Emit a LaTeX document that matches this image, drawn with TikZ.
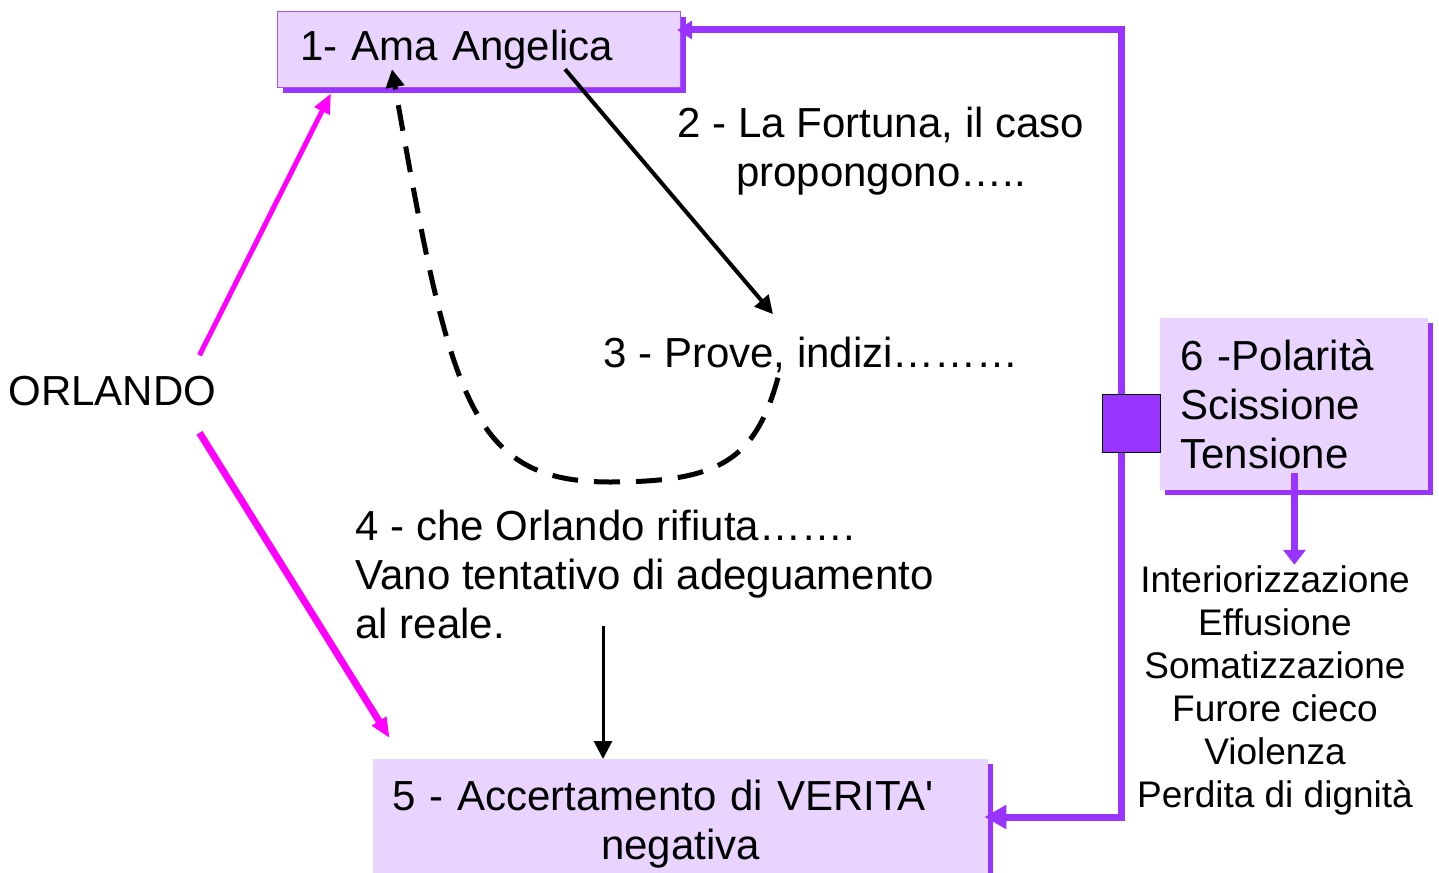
\documentclass[tikz,border=0pt]{standalone}
\usepackage{fontspec}
\setmainfont{Liberation Sans}
\usetikzlibrary{arrows.meta,shadows}

\definecolor{lilac}{HTML}{E8D4FF}
\definecolor{violetline}{HTML}{9933FF}
\definecolor{pinkline}{HTML}{FF00FF}

\tikzset{
  bigtext/.style={font=\fontsize{21}{24.5}\selectfont, inner sep=0pt},
  smalltext/.style={font=\fontsize{18.5}{21.5}\selectfont, inner sep=0pt},
  lilacbox/.style={fill=lilac, font=\fontsize{21}{24.5}\selectfont,
    general shadow={fill=violetline, shadow xshift=2.5pt, shadow yshift=-2.5pt}},
  violetarrow/.style={violetline, line width=3.5pt},
  pinkarrow/.style={pinkline, -{Triangle[length=10pt,width=8pt]}},
  blackarrow/.style={black, -{Triangle[length=9pt,width=9pt]}}
}

\begin{document}
\begin{tikzpicture}[x=0.5pt, y=-0.5pt]
\useasboundingbox (0,0) rectangle (1439,872);

% the three boxes
\node[lilacbox, draw=violetline!85, line width=0.6pt, anchor=north west, align=left,
  text width=178.5pt, inner xsep=11.5pt, minimum height=38pt] (ama) at (277,11) {1- Ama Angelica};
\node[lilacbox, anchor=north west, align=left, text width=114pt, inner xsep=10pt,
  minimum height=86pt] (polar) at (1160,318) {6 -Polarità\\Scissione\\Tensione};
\node[lilacbox, anchor=north, text width=290pt, inner xsep=8.75pt, inner ysep=10.5pt,
  align=center] (verita) at (680.5,759)
  {5 - Accertamento di VERITA\textquotesingle\hspace*{17.5pt}\mbox{}\\negativa};

% free texts
\node[bigtext, anchor=base west] (orlando) at (8,405) {ORLANDO};
\node[bigtext, align=center, anchor=base] (fortuna) at (881,186) {2 - La Fortuna, il caso\\propongono…..};
\node[bigtext, anchor=base west] (prove) at (603,367) {3 - Prove, indizi………};
\node[bigtext, align=left, anchor=base west] (rifiuta) at (355,638)
  {4 - che Orlando rifiuta…….\\Vano tentativo di adeguamento\\al reale.};
\node[smalltext, align=center, anchor=base] (effetti) at (1275,807)
  {Interiorizzazione\\Effusione\\Somatizzazione\\Furore cieco\\Violenza\\Perdita di dignità};

% violet frame on the right
\coordinate (turnlow) at (1121,817);
\coordinate (turnhigh) at (1121,30);
\draw[violetarrow, {Triangle[length=11pt,width=11.5pt]}-{Triangle[length=7.5pt,width=9pt]},
  shorten <=-2pt, shorten >=-2pt]
  (verita.east |- turnlow) -- (turnlow) -- (turnhigh) -- (ama.east |- turnhigh);
\node[draw=black, fill=violetline, line width=0.6pt, minimum size=29pt, inner sep=0pt,
  anchor=north west] (nodo) at (1102,394) {};
\draw[violetarrow, -{Triangle[length=7.5pt,width=11pt]}]
  ([yshift=9pt]polar.south) -- (polar.south |- effetti.north);

% Orlando
\draw[pinkarrow, line width=2.5pt] ([xshift=-8.5pt, yshift=10pt]orlando.north east)
  -- ([xshift=27pt, yshift=-2.5pt]ama.south west);
\draw[pinkarrow, line width=3.5pt] ([xshift=-8.5pt, yshift=-13.5pt]orlando.south east)
  -- ([xshift=8.5pt, yshift=10.5pt]verita.north west);

% black arrows
\draw[blackarrow, line width=2pt] ([xshift=144pt, yshift=9.5pt]ama.south west)
  -- ([xshift=85pt, yshift=11pt]prove.north west);
\draw[blackarrow, line width=2.5pt, dash pattern=on 13pt off 8pt]
  ([xshift=87.5pt, yshift=-2.5pt]prove.south west)
  .. controls (755,460) and (720,482) .. (610,482)
  .. controls (470,482) and (450,400) .. ([xshift=57.5pt, yshift=9.5pt]ama.south west);
\draw[blackarrow, line width=1.5pt] ([xshift=124pt, yshift=6.5pt]rifiuta.south west)
  coordinate (dropstart) -- (dropstart |- verita.north);
\end{tikzpicture}
\end{document}
